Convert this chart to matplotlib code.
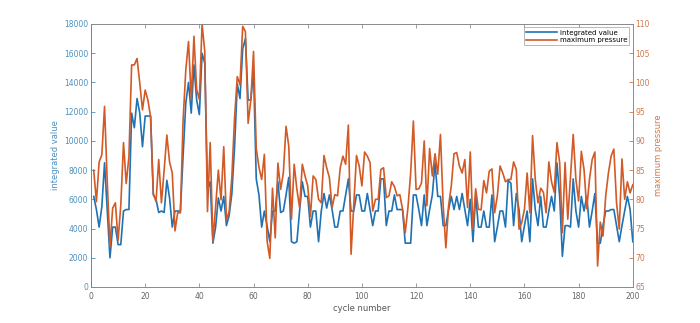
import numpy as np
import matplotlib
matplotlib.use("Agg")
import matplotlib.pyplot as plt

# values, cycles 1..200
cycle = np.arange(1, 201)

integrated = [6.2, 5.3, 4.1, 5.5, 8.5, 5.3, 2.0, 4.1, 4.1, 2.9,
              2.9, 5.2, 5.3, 5.3, 11.9, 10.9, 12.9, 11.9, 9.6, 11.7,
              11.7, 11.7, 6.3, 6.0, 5.1, 5.2, 5.1, 7.3, 6.1, 4.1,
              5.2, 5.2, 5.2, 9.0, 12.6, 14.0, 11.9, 15.2, 12.8, 11.8,
              16.0, 15.3, 6.7, 7.2, 3.0, 4.1, 6.1, 5.2, 6.2, 4.2,
              4.9, 6.4, 9.6, 13.9, 12.9, 16.3, 17.0, 12.8, 12.8, 14.8,
              7.4, 6.3, 4.1, 5.2, 4.2, 3.1, 5.2, 5.2, 7.2, 5.1,
              5.2, 6.3, 7.5, 3.1, 3.0, 3.1, 5.2, 7.2, 6.2, 6.2,
              4.1, 5.2, 5.2, 3.1, 5.2, 6.4, 5.4, 6.3, 5.3, 4.1,
              4.1, 5.2, 5.2, 6.3, 7.4, 5.2, 5.2, 6.3, 6.3, 5.2,
              5.2, 6.4, 5.3, 4.2, 5.2, 5.2, 7.4, 7.4, 4.2, 5.2,
              5.2, 6.3, 5.3, 5.3, 5.3, 3.0, 3.0, 3.0, 6.3, 6.3,
              5.3, 4.2, 6.3, 4.2, 5.3, 6.3, 8.5, 6.2, 6.2, 4.2,
              4.2, 5.3, 6.2, 5.3, 6.2, 5.3, 6.4, 5.3, 4.2, 6.0,
              3.1, 6.3, 4.1, 4.1, 5.2, 4.1, 4.1, 6.3, 3.1, 4.1,
              5.2, 5.2, 4.1, 7.3, 7.1, 4.2, 6.4, 5.3, 3.1, 4.2,
              5.2, 3.1, 7.4, 5.3, 4.2, 6.2, 4.1, 4.1, 5.2, 6.2,
              5.2, 8.5, 6.2, 2.1, 4.2, 4.2, 4.1, 7.4, 5.2, 4.1,
              6.2, 5.2, 6.2, 4.1, 5.2, 6.4, 3.0, 3.0, 4.2, 5.2,
              5.2, 5.3, 5.3, 4.2, 3.1, 4.2, 5.2, 6.2, 5.3, 3.1]
integrated = np.array(integrated) * 1000

pressure = [85.0, 79.6, 86.4, 87.6, 95.9, 83.0, 71.9, 78.5, 79.4, 73.0,
            79.0, 89.7, 82.7, 87.3, 103.0, 103.0, 104.1, 99.9, 95.3, 98.7,
            97.0, 94.1, 81.0, 79.6, 86.8, 79.4, 85.0, 91.0, 86.4, 84.5,
            74.6, 77.7, 77.7, 93.5, 102.2, 107.0, 97.1, 107.9, 98.8, 97.1,
            110.0, 105.3, 77.9, 89.7, 72.8, 78.7, 85.0, 79.9, 89.0, 76.5,
            77.9, 83.9, 94.0, 101.0, 99.6, 109.6, 108.7, 93.0, 97.0, 105.3,
            88.7, 85.5, 83.4, 87.7, 72.9, 69.9, 81.9, 73.4, 86.2, 81.7,
            84.5, 92.5, 89.1, 76.6, 86.0, 81.7, 78.6, 86.0, 84.0, 82.3,
            77.1, 84.0, 83.4, 80.0, 79.4, 87.5, 85.4, 83.7, 78.6, 80.8,
            80.6, 85.4, 87.4, 86.0, 92.7, 70.6, 78.9, 87.5, 85.7, 82.3,
            88.1, 87.4, 86.3, 78.0, 80.0, 80.0, 85.1, 85.4, 80.3, 80.6,
            83.0, 82.2, 80.6, 80.8, 78.3, 74.3, 78.6, 84.5, 93.4, 81.7,
            81.8, 82.8, 90.0, 78.9, 88.7, 84.0, 87.8, 84.3, 91.1, 78.9,
            71.7, 78.9, 82.3, 87.8, 88.0, 85.7, 84.5, 86.8, 78.6, 88.1,
            74.9, 81.8, 78.3, 78.2, 83.2, 81.1, 84.8, 85.2, 77.7, 80.6,
            85.7, 84.5, 83.0, 83.4, 83.4, 86.4, 85.1, 74.9, 76.0, 78.3,
            84.5, 77.7, 90.9, 83.4, 79.4, 81.9, 81.2, 77.7, 86.4, 83.0,
            81.2, 89.7, 86.3, 74.3, 86.3, 76.6, 84.0, 91.1, 83.4, 79.7,
            88.2, 85.1, 78.4, 83.4, 86.8, 88.1, 68.6, 76.1, 73.7, 80.6,
            84.5, 87.4, 88.6, 79.4, 74.9, 86.9, 80.0, 83.0, 81.1, 82.5]

blue = "#1f72b4"
orange = "#d25a26"
grey = "#8a8a8a"

fig = plt.figure(figsize=(7, 3.23), dpi=100)
ax = fig.add_axes([0.13, 0.1115, 0.774, 0.8142])
ax2 = ax.twinx()

l1, = ax.plot(cycle, integrated, color=blue, lw=1.2)
l2, = ax2.plot(cycle, pressure, color=orange, lw=1.2)

ax.set_xlim(0, 200)
ax.set_ylim(0, 18000)
ax2.set_ylim(65, 110)
ax.set_xticks(np.arange(0, 201, 20))
ax.set_yticks(np.arange(0, 18001, 2000))
ax2.set_yticks(np.arange(65, 111, 5))

ax.tick_params(axis="x", direction="in", top=True, labelsize=5.5,
               colors=grey, length=3, width=0.6, labelcolor="#666666", pad=3.5)
ax.tick_params(axis="y", direction="in", labelsize=5.5, colors="#4a90c0",
               length=3, width=0.6, pad=2)
ax2.tick_params(axis="y", direction="in", labelsize=5.5, colors="#d0784a",
                length=3, width=0.6, pad=2)
ax2.tick_params(axis="x", top=False, bottom=False)

for a in (ax, ax2):
    for s in a.spines.values():
        s.set_linewidth(0.6)
        s.set_color(grey)
ax.spines["left"].set_color("#4a90c0")
ax2.spines["left"].set_color("#4a90c0")
ax2.spines["right"].set_color("#d0784a")

ax.set_xlabel("cycle number", fontsize=6, color="#555555", labelpad=2)
ax.set_ylabel("integrated value", fontsize=6, color="#4a90c0", labelpad=3)
ax2.set_ylabel("maximum pressure", fontsize=6, color="#d0784a", labelpad=3)

leg = ax2.legend([l1, l2], ["integrated value", "maximum pressure"],
                 loc="upper right", fontsize=5, frameon=True, fancybox=False,
                 handlelength=4.5, borderpad=0.3, labelspacing=0.2,
                 handletextpad=0.4, borderaxespad=0.5)
leg.get_frame().set_edgecolor("#999999")
leg.get_frame().set_linewidth(0.6)

fig.savefig("out.png", dpi=100)
